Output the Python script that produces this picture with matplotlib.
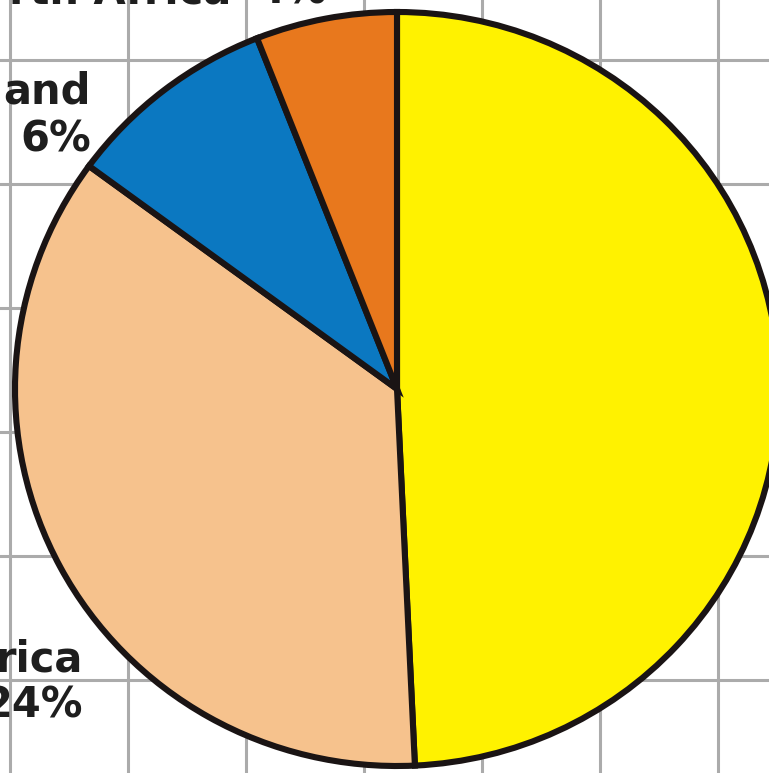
import numpy as np
import matplotlib.pyplot as plt

# slice values, clockwise from 12 o'clock (first slice carries no printed label)
names = ["", "rica", "and", "rth Africa"]
shares = [33, 24, 6, 4]
colors = ["#FFF200", "#F6C28D", "#0B78C1", "#E8781D"]

W, H = 769, 773
# pie is drawn a touch wider than tall
SY = 382 / 377

fig = plt.figure(figsize=(W / 100, H / 100), dpi=100)
ax = fig.add_axes([0, 0, 1, 1])


def py(y):
    # pixel row from the top -> data y
    return (H - y) * SY


# light gray background grid
for gx in np.arange(10, W, 118):
    ax.axvline(gx, color="#ABABAB", lw=2.2, zorder=0)
for gy in np.arange(60, H, 124):
    ax.axhline(py(gy), color="#ABABAB", lw=2.2, zorder=0)

ax.pie(shares, colors=colors, startangle=90, counterclock=False,
       center=(397, py(389)), radius=382,
       wedgeprops=dict(edgecolor="#1A1414", linewidth=4.4, joinstyle="miter"))

ax.set_xlim(0, W)
ax.set_ylim(0, H * SY)
ax.set_aspect("auto")
ax.axis("off")

font = dict(fontsize=30, fontweight="bold", color="#1E1E1E",
            family="DejaVu Sans", va="baseline")

# peach slice label (lower left)
ax.text(83, py(672), names[1], ha="right", **font)
ax.text(83, py(718), f"{shares[1]}%", ha="right", **font)
# blue slice label (upper left)
ax.text(91, py(103), names[2], ha="right", **font)
ax.text(91, py(152), f"{shares[2]}%", ha="right", **font)
# orange slice label (top edge)
ax.text(231, py(4), names[3], ha="right", **font)
ax.text(256, py(4), f"{shares[3]}%", ha="left", **font)

fig.savefig("out.png", dpi=100)
